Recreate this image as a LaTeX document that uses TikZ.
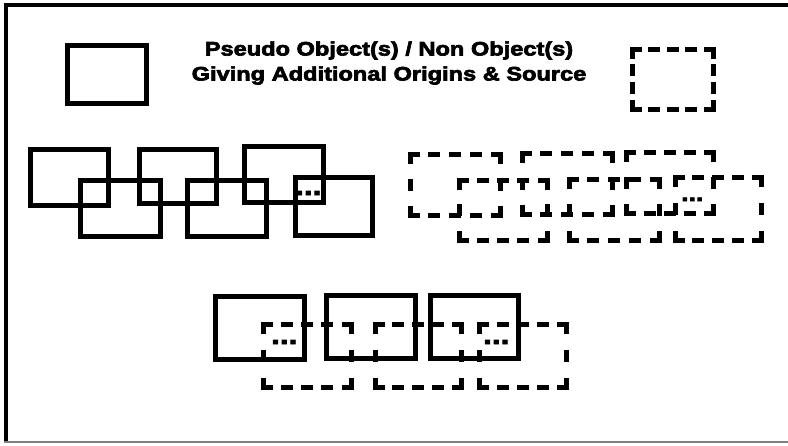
\documentclass[tikz,border=0pt]{standalone}
\usepackage{fontspec}
\newfontfamily\heavyfont{Liberation Sans}[BoldFeatures={FakeBold=3.5}, FakeStretch=1.21]
\tikzset{
    box_solid/.style = {draw=black, line width=5pt, inner sep=0pt},
    box_dashed/.style = {draw=black, line width=5pt, line cap=rect},
    title_text/.style = {align=center, inner sep=0pt, font=\heavyfont\bfseries\fontsize{19.5}{25}\selectfont},
    dots_text/.style = {inner sep=0pt, anchor=base west, font=\heavyfont\bfseries\fontsize{26}{26}\selectfont},
    frame_line/.style = {draw=black, line width=3.5pt}
}
% name, x1, y1, x2, y2, dashes on the short sides
\newcommand{\dashedbox}[6]{%
    \coordinate (#1) at ({(#2+#4)/2},{(#3+#5)/2});
    \pgfmathsetmacro\hgap{((#4-#2)-5*7)/4}
    \pgfmathsetmacro\vgap{((#5-#3)-#6*7)/(#6-1)}
    \draw[box_dashed, dash pattern=on 7pt off \hgap pt] (#2,#3) -- (#4,#3) (#2,#5) -- (#4,#5);
    \draw[box_dashed, dash pattern=on 7pt off \vgap pt] (#2,#3) -- (#2,#5) (#4,#3) -- (#4,#5);
}

\begin{document}
\begin{tikzpicture}[x=1pt, y=-1pt]
    \useasboundingbox (0,0) rectangle (788,445);
    % frame
    \draw[frame_line] (788,5) -- (6,5) -- (6,442);
    \draw[gray, line width=1.2pt] (4,442) -- (788,442);

    \node[title_text] (title) at (389,63) {Pseudo Object(s) / Non Object(s)\\Giving Additional Origins \& Source};

    % solid boxes
    \foreach \n/\x/\y/\w/\h in {t0/106.5/74/79/58,
        a1/69/177/78/56, b1/120/208/80/56, a2/177.5/176/77/54,
        b2/226.5/208/79/56, a3/283.5/174/79/56, b3/333.5/206/77/58,
        e1/259.5/327.5/89/63, e2/370.5/326.5/89/63, e3/474/326.5/88/63}
        \node[box_solid, minimum width=\w pt, minimum height=\h pt] (\n) at (\x,\y) {};

    % dashed boxes
    \foreach \n/\xa/\ya/\xb/\yb/\k in {t1/632/49/713/109/4,
        c1/410/154/500/215/3, d1/459/180/547/240/3,
        c2/522/153/612/214/3, d2/569/179/659/240/3,
        c3/626/152/713/213/3, d3/675/177/761/240/3,
        f1/263/324/351/387/3, f2/375/324/461/387/3, f3/479/324/566/387/3}
        \dashedbox{\n}{\xa}{\ya}{\xb}{\yb}{\k};

    \node[dots_text] (dots_b3) at (295,195) {...};
    \node[dots_text, font=\heavyfont\bfseries\fontsize{22}{22}\selectfont] (dots_d3) at (681,201) {...};
    \node[dots_text] (dots_f1) at (271,344) {...};
    \node[dots_text] (dots_f3) at (483,344) {...};
\end{tikzpicture}
\end{document}
